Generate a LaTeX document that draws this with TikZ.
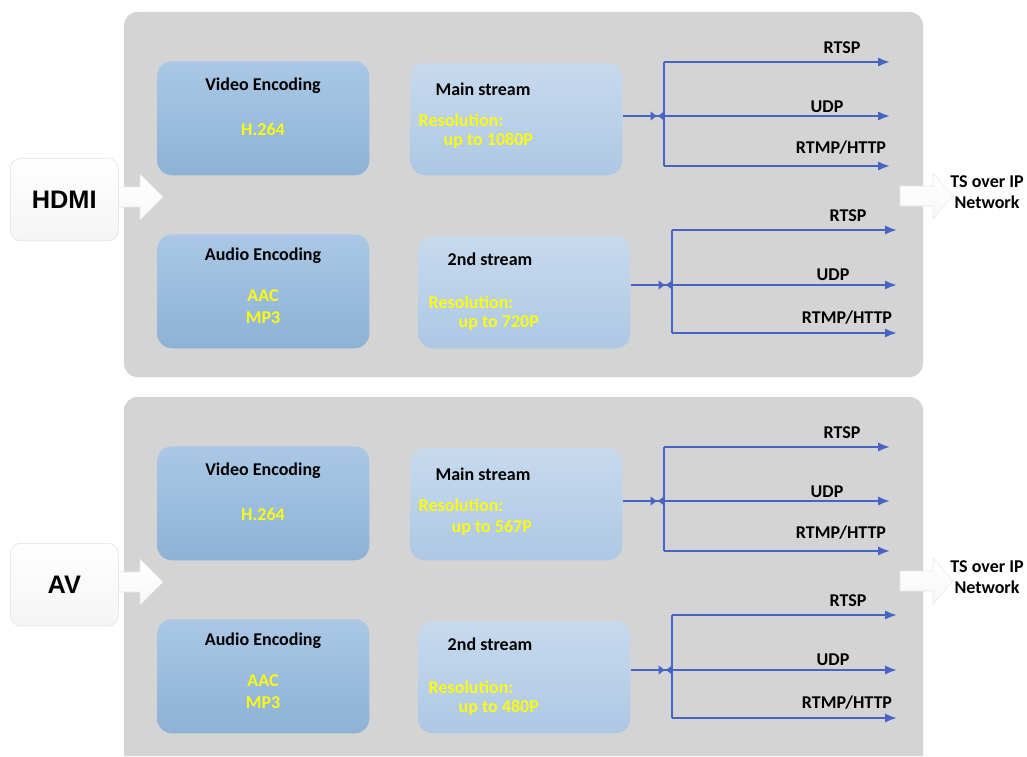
\documentclass[tikz,border=0pt]{standalone}
\usepackage{fontspec}
\setmainfont{Carlito}
\newfontfamily\arialfont{Liberation Sans}
\usetikzlibrary{arrows.meta}
\definecolor{panelgray}{RGB}{212,212,212}
\definecolor{enctop}{RGB}{170,200,229}
\definecolor{encbot}{RGB}{141,178,213}
\definecolor{strtop}{RGB}{199,218,238}
\definecolor{strbot}{RGB}{173,200,228}
\definecolor{flowblue}{RGB}{70,100,196}
\definecolor{resyellow}{RGB}{250,250,20}
\begin{document}
\begin{tikzpicture}[x=0.75pt,y=-0.75pt,
  panelstyle/.style={fill=panelgray,rounded corners=10pt},
  srcstyle/.style={draw=gray!25,top color=white,bottom color=gray!8,rounded corners=8pt,minimum width=81pt,minimum height=62pt,anchor=north west,font=\arialfont\fontsize{19}{21}\selectfont\bfseries},
  encstyle/.style={top color=enctop,bottom color=encbot,rounded corners=11pt,minimum width=159pt,minimum height=85.5pt,anchor=north west},
  streamstyle/.style={top color=strtop,bottom color=strbot,rounded corners=11pt,minimum width=159pt,minimum height=84pt,anchor=north west},
  blackstyle/.style={font=\fontsize{13.5}{16}\selectfont\bfseries,text=black},
  yellowstyle/.style={font=\fontsize{13.5}{16}\selectfont\bfseries,text=resyellow},
  flowline/.style={draw=flowblue,line width=1.7pt},
  flowarrow/.style={flowline,-{Latex[length=9pt,width=7pt]}},
  joinarrow/.style={flowline,-{Latex[length=5pt,width=7.5pt]Latex[reversed,length=5pt,width=7.5pt]}},
  bigarrow/.style={top color=white,bottom color=gray!6,draw=gray!18}]
\useasboundingbox (0,0) rectangle (1027,756);
% HDMI input
\begin{scope}
\fill[panelstyle] (124,12) rectangle (923,377);
\draw[bigarrow] (90,187) -- (140,187) -- (140,174) -- (163,197) -- (140,220) -- (140,207) -- (90,207) -- cycle;
\node[srcstyle](HSrc) at (10,158){HDMI};
\node[encstyle](HVbox) at (157,61){};
\node[blackstyle](HVenc) at (263,86){Video Encoding};
\node[yellowstyle](HVcodec) at (263,129){H.264};
\node[encstyle](HAbox) at (157,234){};
\node[blackstyle](HAenc) at (263,256){Audio Encoding};
\node[yellowstyle](HAcodec1) at (263,296){AAC};
\node[yellowstyle](HAcodec2) at (263,318){MP3};
\node[streamstyle](HMbox) at (410,63){};
\node[blackstyle](HMtitle) at (483,89){Main stream};
\node[yellowstyle,anchor=west](HMres) at (414,120){Resolution:};
\node[yellowstyle,anchor=west](HMup) at (439,141){up to 1080P};
\node[streamstyle](HSbox) at (418,236){};
\node[blackstyle](HStitle) at (490,259){2nd stream};
\node[yellowstyle,anchor=west](HSres) at (424,302){Resolution:};
\node[yellowstyle,anchor=west](HSup) at (454,323){up to 720P};
% main stream outputs
\coordinate (HMj) at (664,116);
\coordinate (HMtop) at (664,62);
\coordinate (HMbot) at (664,166);
\draw[joinarrow] (HMbox.east |- HMj) -- (HMj);
\draw[flowline] (HMtop) -- (HMbot);
\draw[flowarrow] (HMtop) -- (890,62);
\draw[flowarrow] (HMj) -- (890,116);
\draw[flowarrow] (HMbot) -- (890,166);
\node[blackstyle](HMrtsp) at (842,48){RTSP};
\node[blackstyle](HMudp) at (827,107){UDP};
\node[blackstyle](HMhttp) at (841,148){RTMP/HTTP};
% 2nd stream outputs
\coordinate (HSj) at (672,285);
\coordinate (HStop) at (672,230);
\coordinate (HSbot) at (672,333);
\draw[joinarrow] (HSbox.east |- HSj) -- (HSj);
\draw[flowline] (HStop) -- (HSbot);
\draw[flowarrow] (HStop) -- (897,230);
\draw[flowarrow] (HSj) -- (897,285);
\draw[flowarrow] (HSbot) -- (897,333);
\node[blackstyle](HSrtsp) at (848,216){RTSP};
\node[blackstyle](HSudp) at (833,275){UDP};
\node[blackstyle](HShttp) at (847,318){RTMP/HTTP};
\draw[bigarrow] (900,186) -- (933,186) -- (933,173) -- (953,196) -- (933,219) -- (933,206) -- (900,206) -- cycle;
\node[blackstyle,align=center](HOut) at (987,192){TS over IP\\Network};
\end{scope}
% AV input
\begin{scope}[shift={(0,385)}]
\fill[panelgray] (124,22) [rounded corners=10pt] -- (124,12) -- (923,12) [sharp corners] -- (923,371) -- (124,371) -- cycle;
\draw[bigarrow] (90,187) -- (140,187) -- (140,174) -- (163,197) -- (140,220) -- (140,207) -- (90,207) -- cycle;
\node[srcstyle](ASrc) at (10,158){AV};
\node[encstyle](AVbox) at (157,61){};
\node[blackstyle](AVenc) at (263,86){Video Encoding};
\node[yellowstyle](AVcodec) at (263,129){H.264};
\node[encstyle](AAbox) at (157,234){};
\node[blackstyle](AAenc) at (263,256){Audio Encoding};
\node[yellowstyle](AAcodec1) at (263,296){AAC};
\node[yellowstyle](AAcodec2) at (263,318){MP3};
\node[streamstyle](AMbox) at (410,63){};
\node[blackstyle](AMtitle) at (483,89){Main stream};
\node[yellowstyle,anchor=west](AMres) at (414,120){Resolution:};
\node[yellowstyle,anchor=west](AMup) at (447,143){up to 567P};
\node[streamstyle](ASbox) at (418,236){};
\node[blackstyle](AStitle) at (490,259){2nd stream};
\node[yellowstyle,anchor=west](ASres) at (424,302){Resolution:};
\node[yellowstyle,anchor=west](ASup) at (454,323){up to 480P};
% main stream outputs
\coordinate (AMj) at (664,116);
\coordinate (AMtop) at (664,62);
\coordinate (AMbot) at (664,166);
\draw[joinarrow] (AMbox.east |- AMj) -- (AMj);
\draw[flowline] (AMtop) -- (AMbot);
\draw[flowarrow] (AMtop) -- (890,62);
\draw[flowarrow] (AMj) -- (890,116);
\draw[flowarrow] (AMbot) -- (890,166);
\node[blackstyle](AMrtsp) at (842,48){RTSP};
\node[blackstyle](AMudp) at (827,107){UDP};
\node[blackstyle](AMhttp) at (841,148){RTMP/HTTP};
% 2nd stream outputs
\coordinate (ASj) at (672,285);
\coordinate (AStop) at (672,230);
\coordinate (ASbot) at (672,333);
\draw[joinarrow] (ASbox.east |- ASj) -- (ASj);
\draw[flowline] (AStop) -- (ASbot);
\draw[flowarrow] (AStop) -- (897,230);
\draw[flowarrow] (ASj) -- (897,285);
\draw[flowarrow] (ASbot) -- (897,333);
\node[blackstyle](ASrtsp) at (848,216){RTSP};
\node[blackstyle](ASudp) at (833,275){UDP};
\node[blackstyle](AShttp) at (847,318){RTMP/HTTP};
\draw[bigarrow] (900,186) -- (933,186) -- (933,173) -- (953,196) -- (933,219) -- (933,206) -- (900,206) -- cycle;
\node[blackstyle,align=center](AOut) at (987,192){TS over IP\\Network};
\end{scope}
\end{tikzpicture}
\end{document}
